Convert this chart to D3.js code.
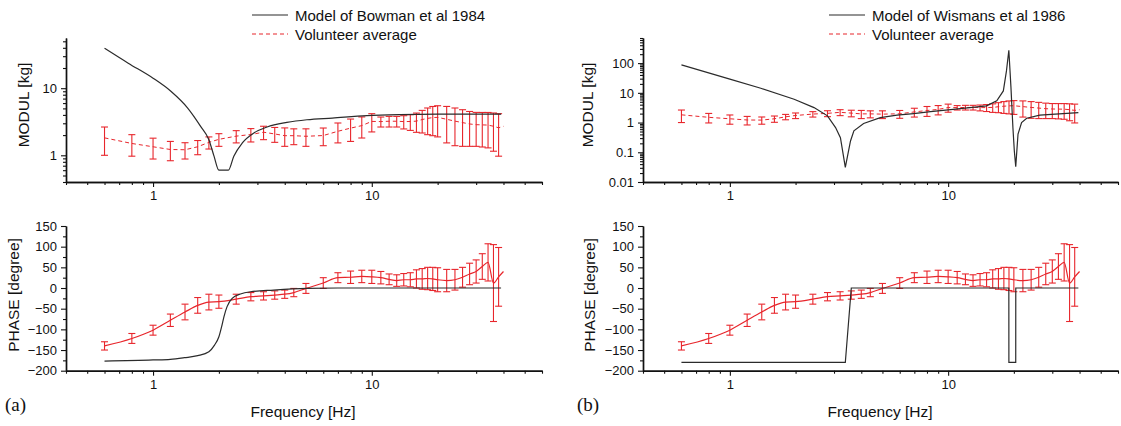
<!DOCTYPE html>
<html>
<head>
<meta charset="utf-8">
<script src="https://cdn.jsdelivr.net/npm/d3@7"></script>
<style>
  body { margin: 0; background: #fff; }
  svg { font-family: "Liberation Sans", Arial, sans-serif; }
</style>
</head>
<body>
<div id="chart"></div>
<script>
// volunteer average (same in both panels)
const freq = [0.6,0.8,1,1.2,1.4,1.6,1.8,2,2.4,2.8,3.2,3.6,4,4.4,5,6,7,8,9,10,11,12,13,14,15,16,17,18,19,20,22,24,26,28,30,32,34,36,38,40];
const modMean = [1.82,1.50,1.34,1.22,1.21,1.34,1.56,1.73,1.93,2.04,2.21,2.08,1.96,1.96,1.92,1.97,2.28,2.54,2.77,3.20,3.18,3.22,3.22,3.18,3.19,3.23,3.41,3.55,3.65,3.68,3.44,3.23,3.07,2.93,2.86,2.84,2.82,2.71,2.57,2.70];
const modSd = [0.82,0.53,0.46,0.39,0.33,0.32,0.32,0.37,0.40,0.46,0.50,0.52,0.60,0.52,0.56,0.58,0.75,0.93,0.96,0.97,0.54,0.58,0.58,0.71,0.84,1.03,1.26,1.52,1.69,1.80,1.91,1.84,1.71,1.57,1.50,1.51,1.53,1.56,1.60,null];
const phaseMean = [-140,-122,-102,-78,-58,-42,-34,-33,-27,-21,-19,-17,-15,-11,-1,12,25,26,28,27,25,21,18,20,20,22,22,23,22,20,18,20,26,34,40,52,62,12,27,40];
const phaseSd = [10,12,12,15,19,19,19,16,12,10,10,10,10,10,12,13,12,15,15,16,15,13,14,15,17,22,25,27,28,29,27,25,24,26,28,31,45,93,71,null];

// model of Bowman et al 1984
const bowF = [0.6,0.77,1.0,1.21,1.44,1.65,1.8,1.9,2.0,2.21,2.34,2.56,2.89,3.32,4.09,5.05,6.6,9.5,13.4,20,39];
const bowMod = [39.4,23.6,14.1,8.93,5.06,2.70,1.71,0.97,0.6,0.6,0.97,1.53,2.15,2.64,3.09,3.39,3.59,3.89,4.03,4.1,4.12];
const bowPF = [0.6,1.0,1.2,1.39,1.6,1.8,1.91,2.0,2.06,2.11,2.18,2.3,2.51,2.79,3.56,5.05,7,39];
const bowPhase = [-176.6,-174,-172.5,-168.6,-163.7,-154,-138,-118,-93,-69,-45,-25,-14.5,-9,-5,-1,0,0];

// model of Wismans et al 1986
const wisF = [0.6,1.0,1.386,1.97,2.43,2.8,3.05,3.21,3.38,3.57,3.7,4.1,4.89,5.83,6.95,8.3,10,12.6,15,16.7,17.9,18.5,18.97,19.4,19.8,20.1,20.4,20.9,21.7,22.9,26.3,33.6,39.5];
const wisMod = [87,28.8,14.3,6.1,3.19,1.68,0.68,0.31,0.031,0.24,0.53,0.93,1.47,1.77,2.01,2.34,2.67,3.19,3.64,5.36,11.6,54.6,271,15,0.68,0.11,0.033,0.41,1.0,1.40,1.77,2.01,2.17];
const wisPF = [0.6,3.38,3.6,18.97,18.98,20.4,20.41,39.5];
const wisPhase = [-180,-180,0,0,-180,-180,0,0];

const phaseTicks = [-200,-150,-100,-50,0,50,100,150];
const phaseMinor = [-175,-125,-75,-25,25,75,125];

const red = "#e8262c";
const dark = "#2b2b2b";

const svg = d3.select("#chart").append("svg")
  .attr("width", 1121).attr("height", 426);

function logMinor(lo, hi) {
  let out = [];
  for (let p = Math.floor(Math.log10(lo)); p <= Math.ceil(Math.log10(hi)); p++) {
    for (let k = 2; k <= 9; k++) {
      let v = k * Math.pow(10, p);
      if (v >= lo * 0.999 && v <= hi * 1.001) out.push(v);
    }
  }
  return out;
}

function fmt(d) { return d3.format("~g")(d); }

function errorBars(g, data, x, y, mean, sd, floor) {
  const bars = g.append("g").attr("stroke", red).attr("stroke-width", 1.1);
  data.forEach(d => {
    let lo = mean(d) - sd(d);
    if (floor != null) lo = Math.max(lo, floor);
    const cx = x(d.f), top = y(mean(d) + sd(d)), bot = y(lo);
    bars.append("line").attr("x1", cx).attr("x2", cx).attr("y1", top).attr("y2", bot);
    bars.append("line").attr("x1", cx - 3.5).attr("x2", cx + 3.5).attr("y1", top).attr("y2", top);
    bars.append("line").attr("x1", cx - 3.5).attr("x2", cx + 3.5).attr("y1", bot).attr("y2", bot);
  });
}

function panel(o) {
  const x = d3.scaleLog().domain([0.4, 60]).range([o.x0, o.x1]);
  const yM = d3.scaleLog().domain(o.modDomain).range([182, 38]);
  const yP = d3.scaleLinear().domain([-200, 150]).range([370.7, 226]);

  const g = svg.append("g");

  // axes
  [182, 370.7].forEach(base => {
    g.append("g").attr("transform", "translate(0," + base + ")")
      .call(d3.axisBottom(x).tickValues(logMinor(0.4, 60)).tickSize(3).tickSizeOuter(0).tickFormat(""));
    g.append("g").attr("transform", "translate(0," + base + ")")
      .call(d3.axisBottom(x).tickValues([1, 10]).tickSize(5).tickSizeOuter(0).tickPadding(4).tickFormat(fmt));
  });
  g.append("g").attr("transform", "translate(" + o.x0 + ",0)")
    .call(d3.axisLeft(yM).tickValues(logMinor(o.modDomain[0], o.modDomain[1])).tickSize(3).tickSizeOuter(0).tickFormat(""));
  g.append("g").attr("transform", "translate(" + o.x0 + ",0)")
    .call(d3.axisLeft(yM).tickValues(o.modTicks).tickSize(5).tickSizeOuter(0).tickPadding(4).tickFormat(fmt));
  g.append("g").attr("transform", "translate(" + o.x0 + ",0)")
    .call(d3.axisLeft(yP).tickValues(phaseMinor).tickSize(3).tickSizeOuter(0).tickFormat(""));
  g.append("g").attr("transform", "translate(" + o.x0 + ",0)")
    .call(d3.axisLeft(yP).tickValues(phaseTicks).tickSize(5).tickSizeOuter(0).tickPadding(4));

  g.selectAll(".domain").attr("stroke", "#111").attr("stroke-width", 1.4);
  g.selectAll(".tick line").attr("stroke", "#111").attr("stroke-width", 1.1);
  g.selectAll(".tick text").attr("font-size", 13).attr("fill", "#111")
    .attr("font-family", "'Liberation Sans', Arial, sans-serif");

  const vol = freq.map((f, i) => ({f: f, m: modMean[i], ms: modSd[i], p: phaseMean[i], ps: phaseSd[i]}));

  // volunteer modulus
  g.append("path").datum(vol)
    .attr("fill", "none").attr("stroke", red).attr("stroke-width", 1).attr("stroke-dasharray", "4,3")
    .attr("d", d3.line().x(d => x(d.f)).y(d => yM(d.m)));
  errorBars(g, vol.filter(d => d.ms != null), x, yM, d => d.m, d => d.ms, o.modDomain[0]);

  // volunteer phase
  g.append("path").datum(vol)
    .attr("fill", "none").attr("stroke", red).attr("stroke-width", 1.2)
    .attr("d", d3.line().curve(d3.curveMonotoneX).x(d => x(d.f)).y(d => yP(d.p)));
  errorBars(g, vol.filter(d => d.ps != null), x, yP, d => d.p, d => d.ps, null);

  // model
  g.append("path").datum(o.mF.map((f, i) => [f, o.mMod[i]]))
    .attr("fill", "none").attr("stroke", dark).attr("stroke-width", 1.2)
    .attr("d", d3.line().curve(o.curve).x(d => x(d[0])).y(d => yM(d[1])));
  g.append("path").datum(o.pF.map((f, i) => [f, o.pPhase[i]]))
    .attr("fill", "none").attr("stroke", dark).attr("stroke-width", 1.2)
    .attr("d", d3.line().curve(o.pCurve).x(d => x(d[0])).y(d => yP(d[1])));

  // titles
  g.append("text").attr("transform", "translate(" + o.tM + ",105)rotate(-90)")
    .attr("text-anchor", "middle").attr("dy", "0.35em").attr("font-size", 15.5).attr("fill", "#111")
    .text("MODUL [kg]");
  g.append("text").attr("transform", "translate(" + o.tP + ",295)rotate(-90)")
    .attr("text-anchor", "middle").attr("dy", "0.35em").attr("font-size", 15.5).attr("fill", "#111")
    .text("PHASE [degree]");
  g.append("text").attr("x", o.fx).attr("y", 417).attr("text-anchor", "middle")
    .attr("font-size", 15.5).attr("fill", "#111").text("Frequency [Hz]");
  g.append("text").attr("x", o.lx).attr("y", 411).attr("font-size", 19)
    .attr("font-family", "'Liberation Serif', 'Times New Roman', serif").attr("fill", "#111")
    .text(o.letter);

  // legend
  g.append("line").attr("x1", o.legX).attr("x2", o.legX + 36).attr("y1", 15).attr("y2", 15)
    .attr("stroke", dark).attr("stroke-width", 1.2);
  g.append("text").attr("x", o.legX + 43).attr("y", 20.5).attr("font-size", 15).attr("fill", "#111")
    .text(o.model);
  g.append("line").attr("x1", o.legX).attr("x2", o.legX + 36).attr("y1", 34).attr("y2", 34)
    .attr("stroke", red).attr("stroke-width", 1.2).attr("stroke-dasharray", "4,3");
  g.append("text").attr("x", o.legX + 43).attr("y", 39.5).attr("font-size", 15).attr("fill", "#111")
    .text("Volunteer average");
}

panel({
  x0: 66, x1: 542, modDomain: [0.4, 56], modTicks: [1, 10],
  mF: bowF, mMod: bowMod, pF: bowPF, pPhase: bowPhase,
  curve: d3.curveMonotoneX, pCurve: d3.curveMonotoneX,
  tM: 24, tP: 14, fx: 303, lx: 5, letter: "(a)",
  legX: 252, model: "Model of Bowman et al 1984"
});
panel({
  x0: 643, x1: 1118, modDomain: [0.01, 700], modTicks: [0.01, 0.1, 1, 10, 100],
  mF: wisF, mMod: wisMod, pF: wisPF, pPhase: wisPhase,
  curve: d3.curveLinear, pCurve: d3.curveLinear,
  tM: 588, tP: 590, fx: 880, lx: 577, letter: "(b)",
  legX: 829, model: "Model of Wismans et al 1986"
});
</script>
</body>
</html>
